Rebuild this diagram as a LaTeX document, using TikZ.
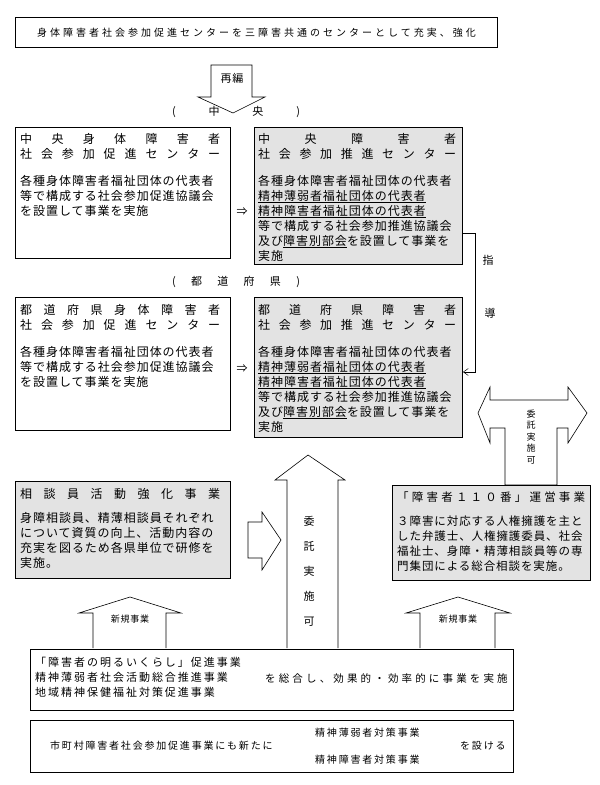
\documentclass[tikz,border=0pt]{standalone}
\usepackage{fontspec}
\setmainfont{Noto Sans CJK JP}
\newfontfamily\jp[LetterSpace=8]{Noto Sans CJK JP}
\newfontfamily\jpm[LetterSpace=18]{Noto Sans CJK JP}
\newfontfamily\jpw[LetterSpace=30]{Noto Sans CJK JP}
\usetikzlibrary{arrows.meta}
\newcommand\spr[2]{\makebox[#1][s]{#2}}
\tikzset{
  box/.style={draw, line width=0.9pt, anchor=north west, inner sep=0pt},
  gbox/.style={box, fill=gray!22},
  txt/.style={anchor=north west, align=left, inner sep=0pt, font=\jp\fontsize{12}{15}\selectfont},
  lbl/.style={inner sep=0pt, font=\jp\fontsize{11}{13}\selectfont},
  shp/.style={draw, line width=0.6pt, fill=white},
}
\begin{document}
\begin{tikzpicture}[x=1pt,y=-1pt]
\useasboundingbox (0,0) rectangle (600,785);
% top box
\node[box, minimum width=482pt, minimum height=30pt] (top) at (15,17) {};
\node[lbl, font=\jpw\fontsize{10}{12}\selectfont] (toptxt) at (top.center) {身体障害者社会参加促進センターを三障害共通のセンターとして充実、強化};
% reorganise arrow
\draw[shp] (211,65) -- (252,65) -- (252,97) -- (265,97) -- (233,113) -- (198,97) -- (211,97) -- cycle;
\node[lbl] (saihen) at (232,78) {再編};
% central label
\node[lbl] (chuo) at (236,112) {\spr{128pt}{(\hfill 中\hfill 央\hfill )}};
% A1 / B1
\node[box, minimum width=215pt, minimum height=131pt] (a1) at (15,127) {};
\node[gbox, minimum width=208pt, minimum height=137pt] (b1) at (254,127) {};
\node[txt] (a1t) at (20,133) {\spr{200pt}{中\hfill 央\hfill 身\hfill 体\hfill 障\hfill 害\hfill 者}\\
\spr{200pt}{社\hfill 会\hfill 参\hfill 加\hfill 促\hfill 進\hfill セ\hfill ン\hfill タ\hfill ー}\\[12pt]
各種身体障害者福祉団体の代表者\\等で構成する社会参加促進協議会\\を設置して事業を実施};
\node[txt] (b1t) at (258,133) {\spr{198pt}{中\hfill 央\hfill 障\hfill 害\hfill 者}\\
\spr{198pt}{社\hfill 会\hfill 参\hfill 加\hfill 推\hfill 進\hfill セ\hfill ン\hfill タ\hfill ー}\\[12pt]
各種身体障害者福祉団体の代表者\\\underline{精神薄弱者福祉団体の代表者}\\\underline{精神障害者福祉団体の代表者}\\等で構成する社会参加推進協議会\\及び\underline{障害別部会}を設置して事業を\\実施};
\node[lbl] (imp1) at (242,212) {⇒};
% prefecture label
\node[lbl] (todo) at (236,282) {\spr{128pt}{(\hfill 都\hfill 道\hfill 府\hfill 県\hfill )}};
% A2 / B2
\node[box, minimum width=215pt, minimum height=133pt] (a2) at (15,297) {};
\node[gbox, minimum width=208pt, minimum height=140pt] (b2) at (254,297) {};
\node[txt] (a2t) at (20,304) {\spr{200pt}{都\hfill 道\hfill 府\hfill 県\hfill 身\hfill 体\hfill 障\hfill 害\hfill 者}\\
\spr{200pt}{社\hfill 会\hfill 参\hfill 加\hfill 促\hfill 進\hfill セ\hfill ン\hfill タ\hfill ー}\\[12pt]
各種身体障害者福祉団体の代表者\\等で構成する社会参加促進協議会\\を設置して事業を実施};
\node[txt] (b2t) at (258,304) {\spr{198pt}{都\hfill 道\hfill 府\hfill 県\hfill 障\hfill 害\hfill 者}\\
\spr{198pt}{社\hfill 会\hfill 参\hfill 加\hfill 推\hfill 進\hfill セ\hfill ン\hfill タ\hfill ー}\\[12pt]
各種身体障害者福祉団体の代表者\\\underline{精神薄弱者福祉団体の代表者}\\\underline{精神障害者福祉団体の代表者}\\等で構成する社会参加推進協議会\\及び\underline{障害別部会}を設置して事業を\\実施};
\node[lbl] (imp2) at (242,369) {⇒};
% guidance connector
\coordinate (g1) at (475,233);
\coordinate (g2) at (475,372);
\draw[line width=0.5pt, -{Straight Barb[length=5pt,width=7pt]}] (b1.east |- g1) -- (g1) -- (g2) -- (b2.east |- g2);
\node[lbl] (shi) at (488,260) {指};
\node[lbl] (do) at (490,313) {導};
% double arrow right
\draw[shp] (478,413) -- (490,387) -- (490,400) -- (568,400) -- (568,387) -- (587,413) -- (568,443) -- (568,428) -- (557,428) -- (557,485) -- (505,485) -- (505,428) -- (490,428) -- (490,443) -- cycle;
\node[lbl, align=center, font=\jp\fontsize{9}{11.5}\selectfont] (itaku1) at (531,437) {委\\託\\実\\施\\可};
% consultant box
\node[gbox, minimum width=215pt, minimum height=97pt] (c) at (15,481) {};
\node[txt] (ct) at (20,488) {\spr{200pt}{相\hfill 談\hfill 員\hfill 活\hfill 動\hfill 強\hfill 化\hfill 事\hfill 業}\\[9pt]
身障相談員、精薄相談員それぞれ\\について資質の向上、活動内容の\\充実を図るため各県単位で研修を\\実施。};
% 110 box
\node[gbox, minimum width=198pt, minimum height=95pt] (d) at (392,485) {};
\node[txt, font=\jp\fontsize{11.5}{15}\selectfont] (dt) at (397,492) {\spr{188pt}{「\hfill 障\hfill 害\hfill 者\hfill １\hfill １\hfill ０\hfill 番\hfill 」\hfill 運\hfill 営\hfill 事\hfill 業}\\[9pt]
３障害に対応する人権擁護を主と\\した弁護士、人権擁護委員、社会\\福祉士、身障・精薄相談員等の専\\門集団による総合相談を実施。};
% small right arrow
\draw[shp] (248,522) -- (262,522) -- (262,512) -- (281,540) -- (262,570) -- (262,558) -- (248,558) -- cycle;
% big up arrow
\draw[shp] (287,648) -- (287,480) -- (275,480) -- (308,455) -- (345,480) -- (338,480) -- (338,648);
\node[lbl, align=center, font=\jp\fontsize{11}{25}\selectfont] (itaku2) at (309,571) {委\\託\\実\\施\\可};
% new project arrows
\draw[shp] (93,648) -- (93,613) -- (79,613) -- (130,597) -- (181,613) -- (166,613) -- (166,648);
\node[lbl, font=\jp\fontsize{9}{11}\selectfont] (new1) at (130,619) {新規事業};
\draw[shp] (420,648) -- (420,613) -- (406,613) -- (458,597) -- (510,613) -- (495,613) -- (495,648);
\node[lbl, font=\jp\fontsize{9}{11}\selectfont] (new2) at (458,619) {新規事業};
% bottom box 1
\node[box, fill=white, minimum width=483pt, minimum height=61pt] (e) at (30,649) {};
\node[txt, font=\jpm\fontsize{11}{15}\selectfont] (et) at (35,657) {「障害者の明るいくらし」促進事業\\精神薄弱者社会活動総合推進事業\\地域精神保健福祉対策促進事業};
\node[lbl, anchor=west, font=\jpw\fontsize{10.5}{13}\selectfont] (et2) at (265,679) {を総合し、効果的・効率的に事業を実施};
% bottom box 2
\node[box, fill=white, minimum width=483pt, minimum height=52pt] (f) at (30,720) {};
\node[lbl, anchor=west, font=\jpm\fontsize{10}{12}\selectfont] (f1) at (50,746) {市町村障害者社会参加促進事業にも新たに};
\node[lbl, anchor=west, font=\jpm\fontsize{10}{12}\selectfont] (f2) at (315,733) {精神薄弱者対策事業};
\node[lbl, anchor=west, font=\jpm\fontsize{10}{12}\selectfont] (f3) at (315,760) {精神障害者対策事業};
\node[lbl, anchor=west, font=\jpm\fontsize{10}{12}\selectfont] (f4) at (460,746) {を設ける};
\end{tikzpicture}
\end{document}
